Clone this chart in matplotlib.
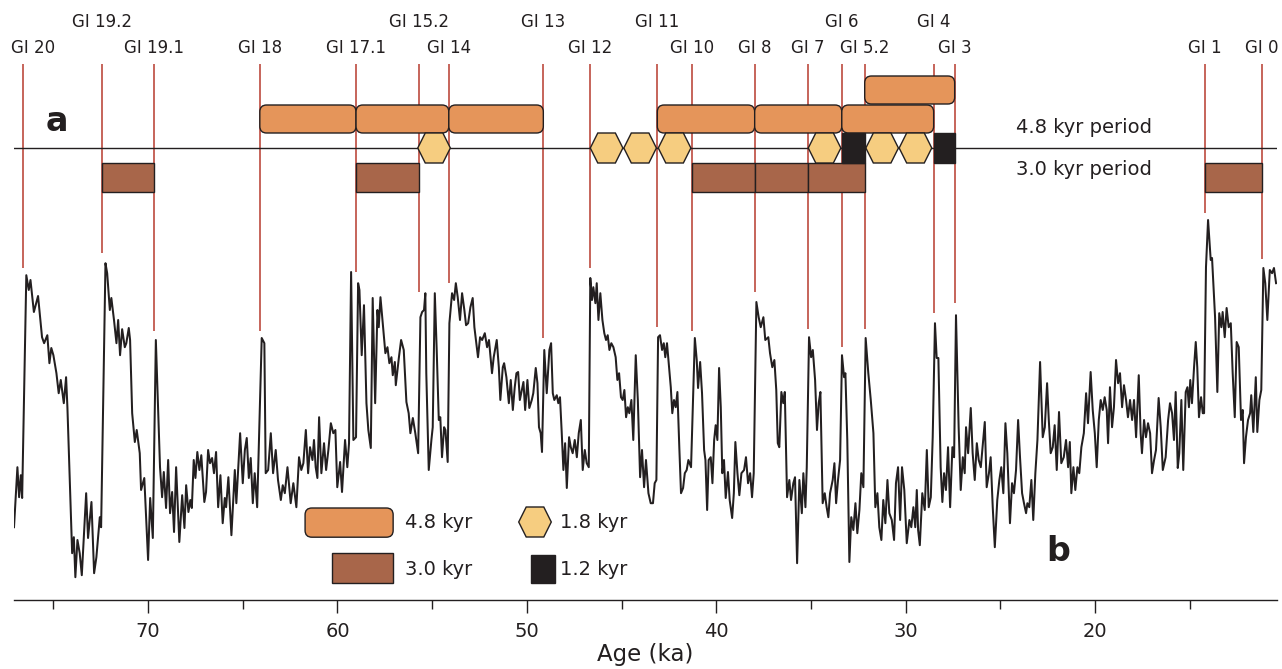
import matplotlib.pyplot as plt
from matplotlib.patches import FancyBboxPatch, Rectangle, Polygon

# NGRIP d18O record (age in ka, d18O in permil)
age = [
    77.08, 76.90, 76.81, 76.72, 76.65, 76.43, 76.30, 76.21, 76.03, 75.81,
    75.72, 75.60, 75.49, 75.32, 75.21, 75.11, 75.00, 74.84, 74.72, 74.61,
    74.45, 74.33, 74.26, 74.01, 73.92, 73.84, 73.73, 73.61, 73.50, 73.27,
    73.17, 72.99, 72.85, 72.73, 72.55, 72.48, 72.25, 72.16, 72.02, 71.94,
    71.80, 71.67, 71.58, 71.48, 71.37, 71.23, 71.15, 71.02, 70.95, 70.84,
    70.70, 70.60, 70.44, 70.37, 70.20, 70.00, 69.89, 69.75, 69.59, 69.37,
    69.26, 69.17, 69.05, 68.94, 68.84, 68.73, 68.63, 68.52, 68.35, 68.20,
    68.08, 67.99, 67.87, 67.77, 67.69, 67.59, 67.50, 67.40, 67.29, 67.19,
    67.03, 66.94, 66.83, 66.73, 66.62, 66.52, 66.41, 66.30, 66.18, 66.06,
    65.95, 65.88, 65.76, 65.60, 65.42, 65.34, 65.14, 65.00, 64.89, 64.79,
    64.68, 64.58, 64.47, 64.37, 64.24, 64.00, 63.86, 63.79, 63.66, 63.52,
    63.40, 63.26, 63.14, 62.99, 62.89, 62.78, 62.64, 62.47, 62.33, 62.17,
    62.03, 61.91, 61.80, 61.67, 61.55, 61.45, 61.32, 61.24, 61.15, 61.06,
    60.97, 60.85, 60.71, 60.60, 60.48, 60.35, 60.22, 60.11, 60.01, 59.86,
    59.76, 59.60, 59.48, 59.39, 59.28, 59.16, 59.02, 58.91, 58.84, 58.72,
    58.60, 58.47, 58.37, 58.24, 58.14, 58.01, 57.89, 57.82, 57.73, 57.61,
    57.47, 57.36, 57.26, 57.15, 57.08, 56.97, 56.92, 56.76, 56.64, 56.50,
    56.36, 56.24, 56.15, 56.02, 55.89, 55.74, 55.62, 55.53, 55.43, 55.36,
    55.31, 55.18, 55.04, 54.97, 54.86, 54.76, 54.65, 54.57, 54.48, 54.37,
    54.30, 54.18, 54.09, 53.95, 53.84, 53.75, 53.65, 53.53, 53.42, 53.30,
    53.21, 53.10, 52.98, 52.86, 52.77, 52.67, 52.58, 52.47, 52.36, 52.22,
    52.10, 52.00, 51.84, 51.75, 51.59, 51.48, 51.40, 51.27, 51.20, 51.08,
    50.95, 50.85, 50.74, 50.64, 50.55, 50.46, 50.37, 50.18, 50.09, 49.97,
    49.87, 49.74, 49.66, 49.53, 49.44, 49.36, 49.27, 49.20, 49.08, 48.95,
    48.81, 48.72, 48.63, 48.55, 48.42, 48.34, 48.25, 48.16, 48.07, 47.98,
    47.89, 47.77, 47.68, 47.58, 47.47, 47.36, 47.26, 47.15, 47.05, 46.94,
    46.84, 46.73, 46.65, 46.56, 46.49, 46.38, 46.31, 46.22, 46.12, 46.01,
    45.91, 45.82, 45.73, 45.64, 45.54, 45.43, 45.31, 45.22, 45.13, 45.03,
    44.94, 44.85, 44.76, 44.67, 44.59, 44.48, 44.38, 44.25, 44.14, 44.02,
    43.92, 43.81, 43.71, 43.58, 43.46, 43.34, 43.25, 43.16, 43.07, 42.97,
    42.86, 42.77, 42.69, 42.60, 42.49, 42.40, 42.32, 42.23, 42.14, 42.05,
    41.95, 41.86, 41.75, 41.66, 41.56, 41.47, 41.33, 41.13, 41.03, 40.96,
    40.85, 40.75, 40.64, 40.57, 40.48, 40.40, 40.29, 40.20, 40.11, 40.03,
    39.94, 39.85, 39.76, 39.68, 39.59, 39.50, 39.38, 39.29, 39.16, 39.07,
    38.99, 38.88, 38.78, 38.67, 38.53, 38.43, 38.32, 38.21, 38.11, 38.02,
    37.88, 37.76, 37.65, 37.51, 37.41, 37.25, 37.16, 37.04, 36.93, 36.83,
    36.75, 36.67, 36.56, 36.46, 36.38, 36.26, 36.14, 36.05, 35.93, 35.84,
    35.73, 35.61, 35.48, 35.40, 35.29, 35.22, 35.10, 34.99, 34.90, 34.78,
    34.68, 34.59, 34.50, 34.38, 34.27, 34.17, 34.08, 33.99, 33.85, 33.76,
    33.67, 33.57, 33.46, 33.36, 33.25, 33.18, 33.08, 32.97, 32.87, 32.76,
    32.65, 32.55, 32.44, 32.34, 32.23, 32.11, 31.97, 31.84, 31.70, 31.60,
    31.49, 31.39, 31.28, 31.18, 31.07, 30.96, 30.86, 30.73, 30.61, 30.51,
    30.40, 30.29, 30.19, 30.07, 29.94, 29.80, 29.70, 29.59, 29.49, 29.41,
    29.34, 29.25, 29.12, 28.99, 28.88, 28.78, 28.67, 28.57, 28.45, 28.36,
    28.27, 28.15, 28.06, 27.97, 27.87, 27.76, 27.65, 27.53, 27.44, 27.34,
    27.20, 27.09, 26.98, 26.88, 26.81, 26.70, 26.56, 26.46, 26.35, 26.24,
    26.14, 26.03, 25.93, 25.82, 25.72, 25.60, 25.51, 25.40, 25.29, 25.16,
    25.05, 24.95, 24.84, 24.73, 24.63, 24.49, 24.38, 24.28, 24.17, 24.06,
    23.96, 23.85, 23.75, 23.64, 23.57, 23.47, 23.36, 23.26, 23.15, 23.04,
    22.90, 22.76, 22.65, 22.53, 22.44, 22.34, 22.23, 22.13, 22.02, 21.90,
    21.78, 21.65, 21.53, 21.42, 21.33, 21.25, 21.14, 21.04, 20.93, 20.83,
    20.72, 20.59, 20.47, 20.37, 20.23, 20.12, 20.01, 19.91, 19.80, 19.70,
    19.59, 19.49, 19.38, 19.31, 19.21, 19.10, 19.00, 18.89, 18.78, 18.68,
    18.57, 18.47, 18.36, 18.26, 18.15, 18.04, 17.94, 17.83, 17.69, 17.59,
    17.52, 17.41, 17.31, 17.20, 17.09, 16.99, 16.88, 16.78, 16.64, 16.53,
    16.42, 16.27, 16.14, 16.04, 15.93, 15.83, 15.74, 15.63, 15.55, 15.44,
    15.34, 15.21, 15.12, 15.04, 14.97, 14.88, 14.77, 14.68, 14.60, 14.51,
    14.40, 14.31, 14.24, 14.14, 14.03, 13.89, 13.82, 13.66, 13.54, 13.44,
    13.33, 13.26, 13.15, 13.05, 12.94, 12.83, 12.73, 12.62, 12.52, 12.41,
    12.29, 12.20, 12.13, 12.03, 11.92, 11.81, 11.75, 11.64, 11.51, 11.43,
    11.32, 11.22, 11.11, 11.01, 10.90, 10.77, 10.65, 10.55, 10.44,
]
d18o = [
    -44.73, -43.23, -43.98, -43.43, -44.00, -38.43, -38.80, -38.55, -39.35, -38.95,
    -39.38, -39.98, -40.13, -39.93, -40.63, -40.25, -40.43, -40.88, -41.38, -41.05,
    -41.63, -40.98, -41.73, -45.38, -44.98, -45.98, -45.05, -45.38, -45.93, -43.88,
    -45.00, -44.10, -45.88, -45.48, -44.48, -44.73, -38.13, -38.38, -39.30, -39.00,
    -39.55, -40.13, -39.55, -40.43, -39.78, -40.23, -40.13, -39.75, -40.05, -41.88,
    -42.60, -42.30, -42.88, -43.80, -43.50, -45.55, -44.00, -45.00, -40.05, -43.23,
    -43.98, -43.35, -44.25, -43.05, -44.38, -43.85, -44.85, -43.23, -45.10, -43.93,
    -44.75, -43.68, -44.35, -44.05, -44.25, -43.05, -43.50, -42.85, -43.30, -42.93,
    -44.10, -43.85, -42.80, -43.13, -43.00, -43.38, -42.85, -44.23, -43.43, -44.63,
    -44.00, -44.23, -43.48, -44.93, -43.30, -44.13, -42.38, -43.63, -42.80, -42.50,
    -43.50, -43.00, -44.13, -43.38, -44.23, -40.00, -40.13, -43.38, -43.30, -42.38,
    -43.38, -42.80, -43.55, -44.05, -43.68, -43.88, -43.23, -44.13, -43.63, -44.23,
    -42.98, -43.30, -43.13, -42.30, -43.38, -42.73, -43.05, -42.55, -43.23, -43.50,
    -41.98, -43.38, -42.63, -43.30, -42.80, -42.13, -42.38, -42.30, -43.73, -43.10,
    -43.85, -42.55, -43.23, -42.63, -38.35, -42.55, -42.48, -38.63, -38.80, -40.43,
    -39.18, -41.63, -42.30, -42.75, -39.00, -41.63, -39.30, -39.73, -38.98, -39.63,
    -40.38, -40.23, -40.63, -40.48, -40.93, -40.60, -41.18, -40.50, -40.05, -40.30,
    -41.60, -41.88, -42.38, -42.00, -42.38, -42.88, -39.48, -39.35, -39.30, -38.88,
    -40.88, -43.30, -42.55, -42.23, -38.88, -40.30, -42.05, -41.98, -42.98, -42.23,
    -42.30, -43.10, -39.63, -38.88, -39.05, -38.63, -38.98, -39.55, -38.88, -39.30,
    -39.68, -39.63, -39.23, -39.00, -39.73, -40.13, -40.48, -39.98, -40.05, -39.88,
    -40.23, -40.05, -40.88, -40.48, -40.05, -40.73, -41.55, -40.73, -40.63, -40.98,
    -41.63, -41.05, -41.80, -41.23, -40.88, -40.85, -41.55, -41.10, -41.80, -41.05,
    -41.75, -41.55, -41.38, -40.75, -41.13, -42.23, -42.38, -42.85, -40.30, -41.38,
    -40.30, -40.13, -41.38, -41.55, -41.43, -41.63, -41.48, -42.35, -43.30, -42.63,
    -43.75, -42.48, -42.73, -42.88, -42.55, -42.98, -42.38, -42.05, -43.30, -42.80,
    -43.13, -43.23, -38.50, -39.05, -38.73, -39.13, -38.63, -39.55, -38.88, -39.55,
    -39.88, -40.05, -39.93, -40.30, -40.13, -40.23, -40.48, -41.05, -40.88, -41.48,
    -41.55, -41.30, -41.98, -41.73, -41.88, -41.55, -42.55, -40.43, -41.55, -43.48,
    -42.80, -43.73, -43.05, -43.88, -44.13, -44.13, -43.63, -43.55, -39.98, -39.93,
    -40.30, -40.13, -40.48, -40.13, -40.73, -41.23, -41.88, -41.55, -41.73, -41.35,
    -42.73, -43.88, -43.75, -43.38, -43.30, -43.05, -43.23, -40.00, -40.55, -41.25,
    -40.60, -41.38, -42.80, -43.05, -44.30, -43.05, -42.98, -43.63, -42.55, -42.18,
    -42.55, -40.75, -41.73, -43.38, -43.05, -44.00, -43.35, -44.05, -44.50, -43.88,
    -42.60, -43.38, -43.93, -43.38, -43.30, -42.98, -43.63, -43.38, -43.98, -43.38,
    -39.10, -39.48, -39.73, -39.48, -40.05, -39.98, -40.38, -40.73, -40.55, -41.30,
    -42.63, -42.73, -41.35, -41.63, -41.35, -43.98, -43.55, -44.05, -43.63, -43.48,
    -45.63, -43.55, -44.38, -43.38, -44.23, -43.23, -39.98, -40.48, -40.30, -41.05,
    -42.30, -41.63, -41.35, -44.13, -43.88, -44.23, -44.48, -43.88, -43.55, -43.13,
    -44.13, -43.55, -43.05, -40.43, -40.98, -40.88, -42.55, -45.60, -44.48, -44.80,
    -44.13, -44.88, -44.30, -43.38, -43.73, -40.00, -40.88, -41.55, -42.38, -44.23,
    -43.88, -44.73, -45.05, -44.05, -44.63, -43.55, -44.38, -44.55, -45.05, -43.63,
    -43.23, -44.55, -43.23, -43.80, -45.13, -44.55, -44.73, -44.23, -44.73, -43.80,
    -44.80, -45.18, -43.88, -44.30, -42.80, -44.23, -43.98, -42.48, -39.63, -40.50,
    -40.50, -43.23, -44.10, -43.38, -43.80, -42.73, -44.23, -42.73, -42.98, -39.43,
    -42.23, -43.80, -42.98, -43.38, -42.23, -42.88, -41.75, -42.88, -43.55, -42.63,
    -43.05, -43.23, -42.68, -42.10, -43.73, -43.38, -42.98, -44.23, -45.23, -44.05,
    -43.55, -43.23, -43.88, -42.13, -42.88, -44.63, -43.63, -43.88, -43.30, -42.05,
    -42.98, -43.88, -44.13, -44.38, -44.13, -44.23, -43.55, -44.55, -43.38, -42.55,
    -40.60, -42.48, -42.23, -41.13, -42.05, -42.88, -42.73, -42.18, -43.30, -41.85,
    -43.13, -42.98, -42.55, -43.23, -42.60, -43.88, -43.23, -43.80, -43.23, -43.38,
    -42.73, -42.38, -41.38, -42.13, -40.85, -41.80, -42.38, -43.23, -42.05, -41.55,
    -41.80, -41.48, -41.80, -42.63, -41.23, -42.23, -41.73, -40.55, -41.13, -40.88,
    -41.73, -41.18, -41.55, -41.98, -41.55, -42.05, -41.55, -42.48, -40.93, -42.38,
    -42.88, -42.05, -42.48, -42.13, -42.38, -43.38, -43.05, -42.80, -41.50, -42.23,
    -43.30, -42.98, -42.05, -41.63, -41.88, -42.55, -41.35, -43.25, -42.88, -41.55,
    -43.30, -41.35, -41.23, -41.73, -41.05, -41.63, -40.73, -40.10, -40.73, -41.98,
    -41.48, -41.88, -41.88, -38.23, -37.05, -38.05, -38.00, -39.48, -41.35, -39.38,
    -39.73, -39.35, -39.98, -39.25, -39.73, -39.63, -40.88, -41.98, -40.10, -40.23,
    -42.05, -41.80, -43.13, -42.48, -42.05, -41.88, -41.43, -42.35, -40.98, -42.35,
    -41.55, -41.30, -38.25, -38.63, -39.55, -38.30, -38.38, -38.25, -38.63,
]
assert len(age) == len(d18o)

# Greenland interstadials: onset age and where the marker line stops
gi_names = ["GI 20", "GI 19.2", "GI 19.1", "GI 18", "GI 17.1", "GI 15.2", "GI 14",
            "GI 13", "GI 12", "GI 11", "GI 10", "GI 8", "GI 7", "GI 6", "GI 5.2",
            "GI 4", "GI 3", "GI 1", "GI 0"]
gi_age = [76.60, 72.44, 69.67, 64.10, 59.02, 55.68, 54.12, 49.13, 46.66, 43.11,
          41.26, 37.97, 35.17, 33.37, 32.16, 28.52, 27.41, 14.19, 11.17]
gi_stop = [-38.25, -37.88, -39.83, -39.83, -38.35, -38.85, -38.63, -40.00, -38.25, -39.73,
           -39.83, -38.85, -39.78, -40.23, -39.78, -39.38, -39.13, -36.88, -38.03]
gi_raised = ["GI 19.2", "GI 15.2", "GI 13", "GI 11", "GI 6", "GI 4"]

# periodicity intervals (start, end) in ka
per_48 = [(64.10, 59.02), (59.02, 54.12), (54.12, 49.13), (43.11, 37.97),
          (37.97, 33.37), (33.37, 28.52)]
per_48_top = [(32.16, 27.41)]
per_30 = [(72.44, 69.67), (59.02, 55.68), (41.26, 37.97), (37.97, 35.17),
          (35.17, 32.16), (14.19, 11.17)]
per_18 = [54.90, 45.79, 44.02, 42.20, 34.28, 31.24, 29.48]
per_12 = [(33.37, 32.16), (28.52, 27.41)]

ink = "#231f20"
red = "#b73a2d"
orange = "#e5955a"
brown = "#a8664a"
yellow = "#f6cd80"

fig = plt.figure(figsize=(12.82, 6.69), dpi=100)
ax = fig.add_axes([14 / 1282, 69 / 669, 1263 / 1282, 600 / 669])
ax.set_xlim(77.08, 10.39)
ax.set_ylim(-46.55, -31.55)

ASPECT = 0.473  # y units per x unit for one pixel


def rounded(x0, x1, y0, y1, fc):
    lo, hi = min(x0, x1), max(x0, x1)
    ax.add_patch(FancyBboxPatch((lo, y0), hi - lo, y1 - y0,
                                boxstyle="round,pad=0,rounding_size=0.36",
                                mutation_aspect=ASPECT, fc=fc, ec=ink, lw=1.0, zorder=3))


def box(x0, x1, y0, y1, fc):
    lo, hi = min(x0, x1), max(x0, x1)
    ax.add_patch(Rectangle((lo, y0), hi - lo, y1 - y0, fc=fc, ec=ink, lw=1.0, zorder=3))


def hexagon(cx, cy, w=1.72, h=0.75):
    k = w * 0.23
    pts = [(cx - w / 2, cy), (cx - w / 2 + k, cy + h / 2), (cx + w / 2 - k, cy + h / 2),
           (cx + w / 2, cy), (cx + w / 2 - k, cy - h / 2), (cx - w / 2 + k, cy - h / 2)]
    ax.add_patch(Polygon(pts, closed=True, fc=yellow, ec=ink, lw=1.0, zorder=3))


# record
ax.plot(age, d18o, color=ink, lw=1.45, solid_joinstyle="round", zorder=4)

# interstadial markers
ax.vlines(gi_age, gi_stop, -33.15, color=red, lw=1.1, zorder=1)
for name, a in zip(gi_names, gi_age):
    y = -32.1 if name in gi_raised else -32.75
    x = a - 0.53 if name == "GI 20" else a
    ax.text(x, y, name, ha="center", va="center", fontsize=12, color=ink)

# period line
ax.axhline(-35.25, color=ink, lw=1.0, zorder=2)

for a0, a1 in per_48:
    rounded(a0, a1, -34.875, -34.175, orange)
for a0, a1 in per_48_top:
    rounded(a0, a1, -34.15, -33.45, orange)
for a0, a1 in per_30:
    box(a0, a1, -36.35, -35.625, brown)
for c in per_18:
    hexagon(c, -35.25)
for a0, a1 in per_12:
    box(a0, a1, -35.625, -34.875, ink)

ax.text(24.17, -34.75, "4.8 kyr period", ha="left", va="center", fontsize=14, color=ink)
ax.text(24.17, -35.78, "3.0 kyr period", ha="left", va="center", fontsize=14, color=ink)
ax.text(74.80, -34.58, "a", ha="center", va="center", fontsize=24, fontweight="bold", color=ink)
ax.text(21.95, -45.33, "b", ha="center", va="center", fontsize=24, fontweight="bold", color=ink)

# key
rounded(61.71, 57.06, -44.98, -44.25, orange)
box(60.28, 57.06, -46.13, -45.38, brown)
hexagon(49.57, -44.6)
box(49.78, 48.51, -46.13, -45.43, ink)
ax.text(56.43, -44.6, "4.8 kyr", ha="left", va="center", fontsize=14, color=ink)
ax.text(56.43, -45.78, "3.0 kyr", ha="left", va="center", fontsize=14, color=ink)
ax.text(48.25, -44.6, "1.8 kyr", ha="left", va="center", fontsize=14, color=ink)
ax.text(48.25, -45.78, "1.2 kyr", ha="left", va="center", fontsize=14, color=ink)

# axis
for s in ["left", "right", "top"]:
    ax.spines[s].set_visible(False)
ax.spines["bottom"].set_color(ink)
ax.spines["bottom"].set_linewidth(1.0)
ax.set_yticks([])
ax.set_xticks([70, 60, 50, 40, 30, 20])
ax.set_xticks([75, 65, 55, 45, 35, 25, 15], minor=True)
ax.tick_params(axis="x", which="major", direction="out", length=9.5, width=1.0,
               color=ink, labelsize=14, labelcolor=ink, pad=6)
ax.tick_params(axis="x", which="minor", direction="out", length=6.5, width=1.0, color=ink)
ax.set_xlabel("Age (ka)", fontsize=16.5, color=ink, labelpad=2)

fig.savefig("out.png", dpi=100, facecolor="white")
